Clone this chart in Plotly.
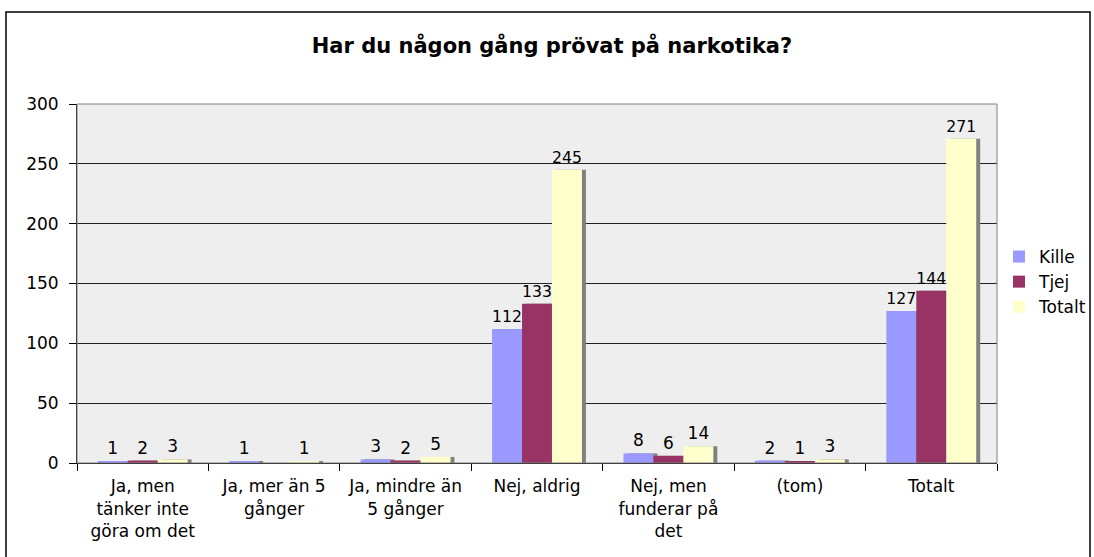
import plotly.graph_objects as go

categories = ["Ja, men<br>tänker inte<br>göra om det", "Ja, mer än 5<br>gånger", "Ja, mindre än<br>5 gånger",
              "Nej, aldrig", "Nej, men<br>funderar på<br>det", "(tom)", "Totalt"]
kille = [1, 1, 3, 112, 8, 2, 127]
tjej = [2, None, 2, 133, 6, 1, 144]
totalt = [3, 1, 5, 245, 14, 3, 271]
series_names = ["Kille", "Tjej", "Totalt"]
colors = ["#9999FF", "#993366", "#FFFFCC"]
y_ticks = [0, 50, 100, 150, 200, 250, 300]

FONT = "DejaVu Sans, Verdana, sans-serif"
W = 0.228
offsets = [-0.342, -0.114, 0.114]
fig = go.Figure()
data = [kille, tjej, totalt]
# shadows
for vals, off in zip(data, offsets):
    fig.add_trace(go.Bar(x=categories, y=vals, width=W, offset=off + 0.03,
                         marker=dict(color="#808080", line=dict(width=0)),
                         showlegend=False, hoverinfo="skip"))
for name, vals, col, off in zip(series_names, data, colors, offsets):
    fig.add_trace(go.Bar(x=categories, y=vals, name=name, width=W, offset=off,
                         marker=dict(color=col, line=dict(width=0)),
                         text=[("" if v is None else str(v)) for v in vals],
                         textposition="outside", cliponaxis=False,
                         textfont=dict(family=FONT, size=17, color="black")))

L, R, T, B = 77, 97, 104, 94
PW, PH = 1094 - L - R, 557 - T - B
fig.update_layout(
    width=1094, height=557,
    margin=dict(l=L, r=R, t=T, b=B, autoexpand=False),
    barmode="overlay",
    paper_bgcolor="white", plot_bgcolor="#EEEEEE",
    font=dict(family=FONT, size=17, color="black"),
    title=dict(text="<b>Har du någon gång prövat på narkotika?</b>", x=(552 - L) / PW, xref="paper",
               y=1 - 46 / 557, yref="container", yanchor="middle", xanchor="center",
               font=dict(family=FONT, size=21, color="black")),
    legend=dict(x=(999 - L) / PW, y=(463 - 282) / PH, xanchor="left", yanchor="middle",
                font=dict(family=FONT, size=17), tracegroupgap=0,
                bgcolor="rgba(0,0,0,0)"),
    showlegend=True,
    xaxis=dict(type="category", tickson="boundaries", ticks="outside", ticklen=7,
               tickcolor="black", showline=True, linecolor="black", linewidth=1,
               showgrid=False, tickfont=dict(family=FONT, size=17), ticklabelstandoff=8),
    yaxis=dict(range=[0, 300], tickvals=y_ticks, ticks="outside", ticklen=7,
               tickcolor="black", showline=True, linecolor="black", linewidth=1,
               showgrid=True, gridcolor="#222222", gridwidth=1, zeroline=False,
               tickfont=dict(family=FONT, size=17), ticklabelstandoff=7),
)
# plot area border
fig.add_shape(type="rect", xref="paper", yref="paper", x0=0, x1=1, y0=0, y1=1,
              line=dict(color="#808080", width=1), layer="above")
# outer chart border
fig.add_shape(type="rect", xref="paper", yref="paper",
              x0=(6 - L) / PW, x1=(1090 - L) / PW,
              y0=(463 - 570) / PH, y1=1 + (T - 12) / PH,
              line=dict(color="black", width=1.5))
fig.write_html("out.html", config={"displayModeBar": False},
               post_script="document.body.style.margin='0';")
